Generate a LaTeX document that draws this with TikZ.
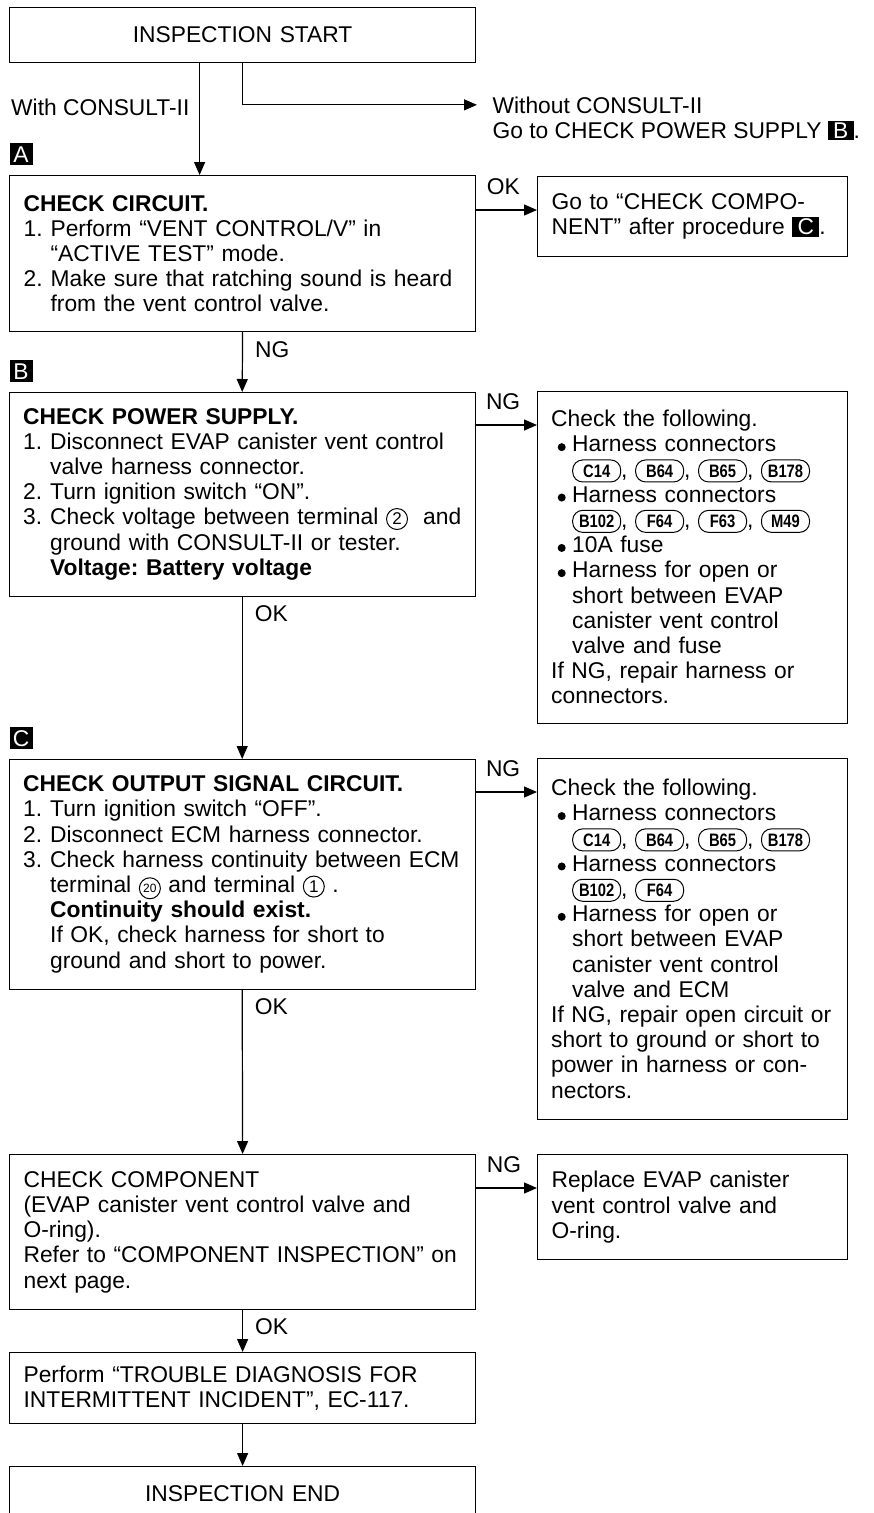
\documentclass[tikz,border=0pt]{standalone}
\usepackage{fontspec}
\setmainfont{Liberation Sans}
\newfontfamily\connfont[FakeStretch=0.82]{Liberation Sans}
\usetikzlibrary{arrows.meta,positioning}
\frenchspacing

\newcommand{\itm}[1]{\par\hangindent=27pt\hangafter=1\noindent\makebox[27pt][l]{#1}}
\newcommand{\bul}{\par\hangindent=21pt\hangafter=1\noindent\makebox[21pt][c]{\tikz[baseline=0pt]\fill (0pt,4.8pt) circle[radius=4pt];}}
\newcommand{\mk}[1]{{\setlength{\fboxsep}{1.5pt}\colorbox{black}{\textcolor{white}{\,#1\,}}}}
\newcommand{\conn}[1]{\tikz[baseline=(c.base)]\node[connbox] (c) {#1};}
\newcommand{\trm}[1]{\tikz[baseline=(t.base)]\node[termbox] (t) {#1};}

\begin{document}
\begin{tikzpicture}[
    x=1pt, y=-1pt,
    >={Triangle[length=13pt,width=11pt]},
    line width=1.2pt,
    font=\fontsize{22.8}{25.2}\selectfont,
    box/.style={
        draw,
        anchor=north west,
        inner xsep=14pt,
        inner ysep=2pt,
        align=left
    },
    mainbox/.style={
        box,
        text width=438pt
    },
    sidebox/.style={
        box,
        text width=282pt
    },
    endbox/.style={
        mainbox,
        align=center,
        minimum height=55pt
    },
    marker/.style={
        fill=black,
        text=white,
        inner sep=0pt,
        minimum width=23pt,
        minimum height=22pt
    },
    lbl/.style={
        inner sep=0pt
    },
    connbox/.style={
        draw,
        rounded corners=10pt,
        line width=1pt,
        text width={},
        align=center,
        inner sep=0pt,
        minimum width=48pt,
        minimum height=22pt,
        anchor=center,
        font=\connfont\fontsize{18}{18}\selectfont\bfseries
    },
    termbox/.style={
        draw,
        circle,
        line width=1pt,
        text width={},
        align=center,
        inner sep=0pt,
        minimum size=21pt,
        anchor=center,
        font=\fontsize{17}{17}\selectfont
    },
    arrow/.style={
        ->
    }]

\useasboundingbox (0,0) rectangle (874,1513);

% Start
\node[endbox] (start) at (9,7)
{INSPECTION START};

\node[lbl, anchor=east] (withC) at (190,107)
{With CONSULT-II};

\node[lbl, anchor=base west] (wo1) at (492,113)
{Without CONSULT-II};

\node[lbl, anchor=base west] (wo2) at (492,138)
{Go to CHECK POWER SUPPLY \mk{B}.};


% Check circuit
\node[mainbox, minimum height=156pt] (chkA) at (9,175)
{\textbf{CHECK CIRCUIT.}
\itm{1.}Perform “VENT CONTROL/V” in\newline “ACTIVE TEST” mode.
\itm{2.}Make sure that ratching sound is heard\newline from the vent control valve.\par};

\node[marker, above right=9pt and 0pt of chkA.north west] (mA) {A};

\node[sidebox, minimum height=80pt] (goC) at (537,176)
{Go to “CHECK COMPO-\newline NENT” after procedure \mk{C}.};


% Power supply
\node[mainbox, minimum height=204pt] (pwrB) at (9,392)
{\textbf{CHECK POWER SUPPLY.}
\itm{1.}Disconnect EVAP canister vent control\newline valve harness connector.
\itm{2.}Turn ignition switch “ON”.
\itm{3.}\mbox{Check voltage between terminal \trm{2}\ \ and}\newline ground with CONSULT-II or tester.\newline \textbf{Voltage: Battery voltage}\par};

\node[marker, above right=9pt and 0pt of pwrB.north west] (mB) {B};

\node[sidebox, minimum height=332pt] (fixPwr) at (537,391)
{Check the following.
\bul Harness connectors\newline \conn{C14}, \conn{B64}, \conn{B65}, \conn{B178}
\bul Harness connectors\newline \conn{B102}, \conn{F64}, \conn{F63}, \conn{M49}
\bul 10A fuse
\bul Harness for open or\newline short between EVAP\newline canister vent control\newline valve and fuse
\par If NG, repair harness or\newline connectors.};


% Output signal
\node[mainbox, minimum height=230pt] (outC) at (9,759)
{\textbf{CHECK OUTPUT SIGNAL CIRCUIT.}
\itm{1.}Turn ignition switch “OFF”.
\itm{2.}Disconnect ECM harness connector.
\itm{3.}Check harness continuity between ECM\newline terminal \trm{\fontsize{12}{12}\selectfont 20} and terminal \trm{1} .\newline \textbf{Continuity should exist.}\newline If OK, check harness for short to\newline ground and short to power.\par};

\node[marker, above right=9pt and 0pt of outC.north west] (mC) {C};

\node[sidebox, minimum height=361pt] (fixOut) at (537,758)
{Check the following.
\bul Harness connectors\newline \conn{C14}, \conn{B64}, \conn{B65}, \conn{B178}
\bul Harness connectors\newline \conn{B102}, \conn{F64}
\bul Harness for open or\newline short between EVAP\newline canister vent control\newline valve and ECM
\par If NG, repair open circuit or\newline short to ground or short to\newline power in harness or con-\newline nectors.};


% Component
\node[mainbox, minimum height=155pt] (compD) at (9,1154)
{CHECK COMPONENT\newline (EVAP canister vent control valve and\newline O-ring).\newline Refer to “COMPONENT INSPECTION” on\newline next page.};

\node[sidebox, minimum height=105pt] (repl) at (537,1154)
{Replace EVAP canister\newline vent control valve and\newline O-ring.};


% End
\node[mainbox, minimum height=71pt] (diagE) at (9,1352)
{Perform “TROUBLE DIAGNOSIS FOR\newline INTERMITTENT INCIDENT”, EC-117.};

\node[endbox] (finish) at (9,1466)
{INSPECTION END};


% Entry points on the right
\coordinate[below=34pt of goC.north west] (inGoC);
\coordinate[below=34pt of fixPwr.north west] (inPwr);
\coordinate[below=34pt of fixOut.north west] (inOut);
\coordinate[below=34pt of repl.north west] (inRepl);


% Arrows
\draw[arrow]
([xshift=-43pt]start.south) -- ([xshift=-43pt]chkA.north);

\draw[arrow]
(start.south) |- ([xshift=-15pt]wo1.west);

\draw[arrow]
(inGoC -| chkA.east) -- node[lbl, pos=0, anchor=south west, xshift=10pt, yshift=15pt] (ok1) {OK} (inGoC);

\draw[arrow]
(chkA.south) -- node[lbl, pos=0, anchor=west, xshift=12pt, yshift=-17pt] (ng1) {NG} (pwrB.north);

\draw[arrow]
(inPwr -| pwrB.east) -- node[lbl, pos=0, anchor=south west, xshift=10pt, yshift=15pt] (ng2) {NG} (inPwr);

\draw[arrow]
(pwrB.south) -- node[lbl, pos=0, anchor=west, xshift=12pt, yshift=-17pt] (ok2) {OK} (outC.north);

\draw[arrow]
(inOut -| outC.east) -- node[lbl, pos=0, anchor=south west, xshift=10pt, yshift=15pt] (ng3) {NG} (inOut);

\draw[arrow]
(outC.south) -- node[lbl, pos=0, anchor=west, xshift=12pt, yshift=-17pt] (ok3) {OK} (compD.north);

\draw[arrow]
(inRepl -| compD.east) -- node[lbl, pos=0, anchor=south west, xshift=10pt, yshift=15pt] (ng4) {NG} (inRepl);

\draw[arrow]
(compD.south) -- node[lbl, pos=0, anchor=west, xshift=12pt, yshift=-16pt] (ok4) {OK} (diagE.north);

\draw[arrow]
(diagE.south) -- (finish.north);

\end{tikzpicture}
\end{document}
